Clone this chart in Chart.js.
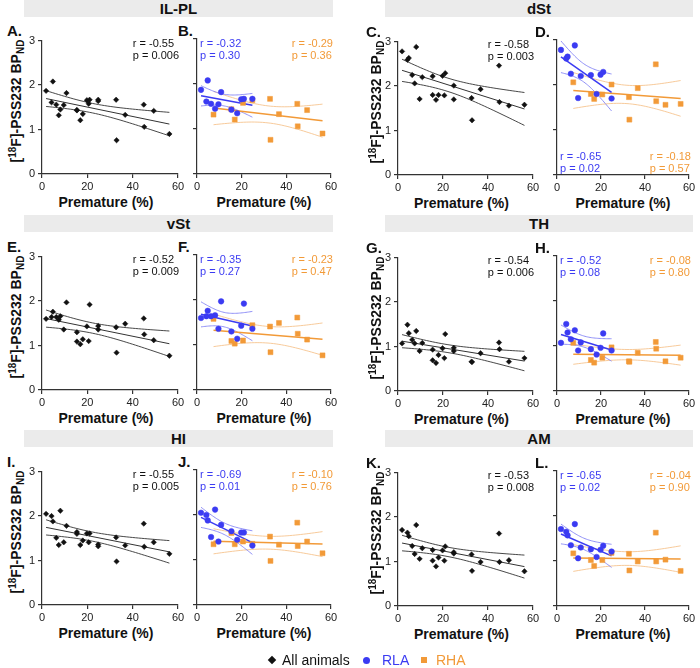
<!DOCTYPE html>
<html><head><meta charset="utf-8">
<script src="https://cdn.jsdelivr.net/npm/chart.js@4.4.0/dist/chart.umd.min.js"></script>
<style>
html,body{margin:0;padding:0;background:#fff;}
#root{position:relative;width:700px;height:668px;overflow:hidden;font-family:"Liberation Sans",Arial,sans-serif;color:#111;}
.hdr{position:absolute;background:#ebebeb;font-weight:bold;font-size:15px;text-align:center;line-height:17px;height:17px;}
.let{position:absolute;font-weight:bold;font-size:15px;line-height:15px;white-space:nowrap;}
.yt{position:absolute;font-weight:bold;font-size:14px;width:170px;height:16px;text-align:center;line-height:16px;transform:rotate(-90deg);white-space:nowrap;}
.yt .sp{font-size:10px;position:relative;top:-5px;}
.yt .sb{font-size:10px;position:relative;top:3px;}
.xt{position:absolute;font-weight:bold;font-size:14px;width:140px;text-align:center;line-height:16px;white-space:nowrap;}
.st{position:absolute;font-size:11px;line-height:12px;white-space:nowrap;}
.lg{position:absolute;font-size:14px;line-height:16px;white-space:nowrap;}
canvas{position:absolute;}
</style>
</head><body><div id="root"></div>
<script>
// ---------- data ----------
const REGIONS = ['IL-PL', 'dSt', 'vSt', 'TH', 'HI', 'AM'];
const LETTERS = ['A.', 'B.', 'C.', 'D.', 'E.', 'F.', 'G.', 'H.', 'I.', 'J.', 'K.', 'L.'];
const PREM_RLA = [1.8, 4.2, 4.8, 6.3, 8.1, 9.6, 10.8, 15.4, 18.0, 19.8, 21.0, 24.8];
const PREM_RHA = [7.4, 15.4, 16.9, 20.6, 24.8, 32.7, 32.9, 36.7, 44.9, 45.1, 49.3, 56.2];

const ILPL_RLA = [1.87, 1.61, 2.08, 1.56, 1.45, 1.55, 1.82, 1.43, 1.35, 1.66, 1.67, 1.67];
const ILPL_RHA = [1.32, 1.44, 1.21, 1.58, 1.64, 1.67, 0.76, 1.33, 1.56, 1.06, 1.42, 0.90];
const DST_RLA  = [2.78, 2.59, 2.63, 2.25, 2.88, 1.71, 2.20, 2.22, 1.80, 2.23, 2.29, 1.70];
const DST_RHA  = [2.06, 1.80, 1.69, 1.79, 2.01, 1.73, 1.23, 1.93, 2.46, 1.64, 1.56, 1.58];
const VST_RLA  = [1.60, 1.64, 1.76, 1.64, 1.66, 1.36, 1.97, 1.30, 1.14, 1.43, 1.92, 1.36];
const VST_RHA  = [1.58, 1.09, 1.03, 1.10, 1.44, 1.41, 0.84, 1.49, 1.61, 1.25, 1.12, 0.77];
const TH_RLA   = [1.07, 1.49, 1.30, 1.15, 1.35, 0.90, 1.08, 0.93, 0.81, 0.96, 1.28, 0.90];
const TH_RHA   = [1.07, 0.69, 0.63, 0.74, 0.97, 0.66, 0.65, 0.85, 1.09, 0.94, 0.66, 0.74];
const HI_RLA   = [2.05, 2.00, 1.88, 1.51, 2.12, 1.41, 1.78, 1.64, 1.45, 1.61, 1.61, 1.32];
const HI_RHA   = [1.35, 1.60, 1.35, 1.41, 1.36, 1.52, 0.98, 1.34, 1.83, 1.31, 1.41, 1.15];
const AM_RLA   = [1.71, 1.65, 1.57, 1.35, 1.82, 1.06, 1.30, 1.26, 1.09, 1.25, 1.34, 1.21];
const AM_RHA   = [1.17, 1.02, 0.89, 1.02, 1.18, 1.16, 0.79, 0.99, 1.63, 0.99, 1.03, 0.78];

const R_ALL = ['r = -0.55', 'r = -0.58', 'r = -0.52', 'r = -0.54', 'r = -0.55', 'r = -0.53'];
const P_ALL = ['p = 0.006', 'p = 0.003', 'p = 0.009', 'p = 0.006', 'p = 0.005', 'p = 0.008'];
const R_RLA = ['r = -0.32', 'r = -0.65', 'r = -0.35', 'r = -0.52', 'r = -0.69', 'r = -0.65'];
const P_RLA = ['p = 0.30', 'p = 0.02', 'p = 0.27', 'p = 0.08', 'p = 0.01', 'p = 0.02'];
const R_RHA = ['r = -0.29', 'r = -0.18', 'r = -0.23', 'r = -0.08', 'r = -0.10', 'r = -0.04'];
const P_RHA = ['p = 0.36', 'p = 0.57', 'p = 0.47', 'p = 0.80', 'p = 0.76', 'p = 0.90'];
const STAT_POS = ['top', 'bottom', 'top', 'top', 'top', 'top'];

const X_TICKS = [0, 20, 40, 60];
const Y_TICKS = [0, 1, 2, 3];
const X_TITLE = 'Premature (%)';
const LEGEND_LABELS = ['All animals', 'RLA', 'RHA'];

const BP_RLA = [ILPL_RLA, DST_RLA, VST_RLA, TH_RLA, HI_RLA, AM_RLA];
const BP_RHA = [ILPL_RHA, DST_RHA, VST_RHA, TH_RHA, HI_RHA, AM_RHA];

// ---------- style ----------
const BLUE = '#3b3bf2', BLUE_L = '#8585f5';
const ORANGE = '#f29a38', ORANGE_L = '#f6c48e';
const AXC = '#333';
const FONT = '"Liberation Sans", Arial, sans-serif';

const root = document.getElementById('root');
function el(cls, html, css) {
  const d = document.createElement('div');
  d.className = cls; d.innerHTML = html;
  Object.assign(d.style, css);
  root.appendChild(d); return d;
}

// t critical (two-sided 95%) by degrees of freedom
const T95 = {8: 2.306, 9: 2.262, 10: 2.228, 11: 2.201, 20: 2.086, 21: 2.080, 22: 2.074, 23: 2.069};

function regression(xs, ys, nSamp) {
  const n = xs.length;
  let mx = 0, my = 0;
  for (let i = 0; i < n; i++) { mx += xs[i]; my += ys[i]; }
  mx /= n; my /= n;
  let sxx = 0, sxy = 0;
  for (let i = 0; i < n; i++) { sxx += (xs[i]-mx)**2; sxy += (xs[i]-mx)*(ys[i]-my); }
  const b = sxy / sxx, a = my - b * mx;
  let sse = 0;
  for (let i = 0; i < n; i++) sse += (ys[i] - a - b*xs[i])**2;
  const s = Math.sqrt(sse / (n - 2));
  const t = T95[n - 2] || 2.1;
  const x0 = Math.min(...xs), x1 = Math.max(...xs);
  const line = [{x: x0, y: a + b*x0}, {x: x1, y: a + b*x1}];
  const up = [], lo = [];
  for (let i = 0; i <= nSamp; i++) {
    const x = x0 + (x1 - x0) * i / nSamp;
    const yh = a + b*x;
    const se = s * Math.sqrt(1/n + (x-mx)**2/sxx);
    up.push({x, y: yh + t*se}); lo.push({x, y: yh - t*se});
  }
  return {line, up, lo};
}

const pts = (xs, ys) => xs.map((x, i) => ({x, y: ys[i]}));
const lineDs = (data, color, w) => ({data, showLine: true, pointRadius: 0, borderColor: color, borderWidth: w, fill: false, tension: 0});

const AXW = 22, XAH = 18, PT = 8, PR = 9;

function makeChart(pl, pr, pt, pb, datasets, showYLabels) {
  const L = Math.round(pl) - AXW, T = Math.round(pt) - PT;
  const W = Math.round(pr) - Math.round(pl) + AXW + PR;
  const H = Math.round(pb) - Math.round(pt) + PT + XAH;
  const c = document.createElement('canvas');
  c.width = W; c.height = H;
  c.style.left = L + 'px'; c.style.top = T + 'px';
  c.style.width = W + 'px'; c.style.height = H + 'px';
  root.appendChild(c);
  const tickFont = {family: FONT, size: 11};
  new Chart(c.getContext('2d'), {
    type: 'scatter',
    data: {datasets},
    options: {
      responsive: false, animation: false, devicePixelRatio: 1,
      layout: {padding: {top: PT, right: PR, left: 0, bottom: 0}},
      plugins: {legend: {display: false}, tooltip: {enabled: false}},
      scales: {
        x: {
          type: 'linear', min: 0, max: 60,
          afterBuildTicks: s => { s.ticks = X_TICKS.map(v => ({value: v})); },
          afterFit: s => { s.height = XAH; },
          ticks: {font: tickFont, color: '#222', padding: 2, maxRotation: 0, autoSkip: false},
          grid: {drawOnChartArea: false, drawTicks: true, tickLength: 4, color: AXC, lineWidth: 1.2},
          border: {display: true, color: AXC, width: 1.2}
        },
        y: {
          type: 'linear', min: 0, max: 3,
          afterBuildTicks: s => { s.ticks = Y_TICKS.map(v => ({value: v})); },
          afterFit: s => { s.width = AXW; },
          ticks: {display: showYLabels, font: tickFont, color: '#222', padding: 3},
          grid: {drawOnChartArea: false, drawTicks: true, tickLength: 4, color: AXC, lineWidth: 1.2},
          border: {display: true, color: AXC, width: 1.2}
        }
      }
    }
  });
}

// ---------- layout ----------
const COLS = [
  {hdr: [24, 333], A: [42, 178], B: [197, 331], letA: 7, letB: 178, ytx: 16, dy: 0},
  {hdr: [385, 693], A: [398, 533], B: [557, 689], letA: 366, letB: 535, ytx: 376, dy: 1}
];
const ROW_T = [38.5, 254.5, 469.5];
const ROW_H = [0, 214.5, 429.5];
const PH = 135.5;

REGIONS.forEach((name, k) => {
  const col = COLS[k % 2], row = Math.floor(k / 2);
  const pt = ROW_T[row] + col.dy, pb = pt + PH;
  // header
  el('hdr', name, {left: col.hdr[0] + 'px', top: ROW_H[row] + 'px', width: (col.hdr[1] - col.hdr[0]) + 'px'});
  // letters
  el('let', LETTERS[2*k], {left: col.letA + 'px', top: (pt - 16) + 'px'});
  el('let', LETTERS[2*k+1], {left: col.letB + 'px', top: (pt - 16) + 'px'});
  // y title
  el('yt', '[<span class="sp">18</span>F]-PSS232 BP<span class="sb">ND</span>',
     {left: (col.ytx - 85) + 'px', top: (pt + 62 - 8) + 'px'});
  // x titles
  el('xt', X_TITLE, {left: ((col.A[0] + col.A[1]) / 2 - 4 - 70) + 'px', top: (pb + 20) + 'px'});
  el('xt', X_TITLE, {left: ((col.B[0] + col.B[1]) / 2 - 70) + 'px', top: (pb + 20) + 'px'});

  // all animals panel
  const allX = PREM_RLA.concat(PREM_RHA);
  const allY = BP_RLA[k].concat(BP_RHA[k]);
  const rAll = regression(allX, allY, 40);
  makeChart(col.A[0], col.A[1], pt, pb, [
    {data: pts(allX, allY), pointStyle: 'rectRot', pointRadius: 2.7, backgroundColor: '#111', borderColor: '#111', borderWidth: 0.5},
    lineDs(rAll.line, '#333', 1),
    lineDs(rAll.up, '#333', 0.9),
    lineDs(rAll.lo, '#333', 0.9)
  ], true);
  el('st', R_ALL[k] + '<br>' + P_ALL[k], {right: (700 - col.A[1] - 1) + 'px', top: (pt - 2) + 'px', textAlign: 'left', color: '#111'});

  // split panel
  const rL = regression(PREM_RLA, BP_RLA[k], 40);
  const rH = regression(PREM_RHA, BP_RHA[k], 40);
  makeChart(col.B[0], col.B[1], pt, pb, [
    {data: pts(PREM_RLA, BP_RLA[k]), pointStyle: 'circle', pointRadius: 2.8, backgroundColor: BLUE, borderColor: BLUE, borderWidth: 0.5},
    {data: pts(PREM_RHA, BP_RHA[k]), pointStyle: 'rect', pointRadius: 3.5, backgroundColor: ORANGE, borderColor: ORANGE, borderWidth: 0.5},
    lineDs(rL.line, BLUE, 1.5),
    lineDs(rH.line, ORANGE, 1.5),
    lineDs(rL.up, BLUE_L, 0.9), lineDs(rL.lo, BLUE_L, 0.9),
    lineDs(rH.up, ORANGE_L, 0.9), lineDs(rH.lo, ORANGE_L, 0.9)
  ], false);
  const sy = STAT_POS[k] === 'top' ? pt - 2 : pb - 25;
  el('st', R_RLA[k] + '<br>' + P_RLA[k], {left: (col.B[0] + 3) + 'px', top: sy + 'px', color: BLUE});
  el('st', R_RHA[k] + '<br>' + P_RHA[k], {right: (700 - col.B[1] - 2) + 'px', top: sy + 'px', color: ORANGE});
});

// ---------- legend ----------
const LY = 660;
el('lg', '', {left: '269px', top: (LY - 3) + 'px', width: '6px', height: '6px', background: '#111', transform: 'rotate(45deg)'});
el('lg', LEGEND_LABELS[0], {left: '282px', top: (LY - 8) + 'px', color: '#111'});
el('lg', '', {left: '362.5px', top: (LY - 3.5) + 'px', width: '7px', height: '7px', background: BLUE, borderRadius: '50%'});
el('lg', LEGEND_LABELS[1], {left: '382px', top: (LY - 8) + 'px', color: BLUE});
el('lg', '', {left: '421px', top: (LY - 3) + 'px', width: '6px', height: '6px', background: ORANGE});
el('lg', LEGEND_LABELS[2], {left: '436px', top: (LY - 8) + 'px', color: ORANGE});
</script>
</body></html>
